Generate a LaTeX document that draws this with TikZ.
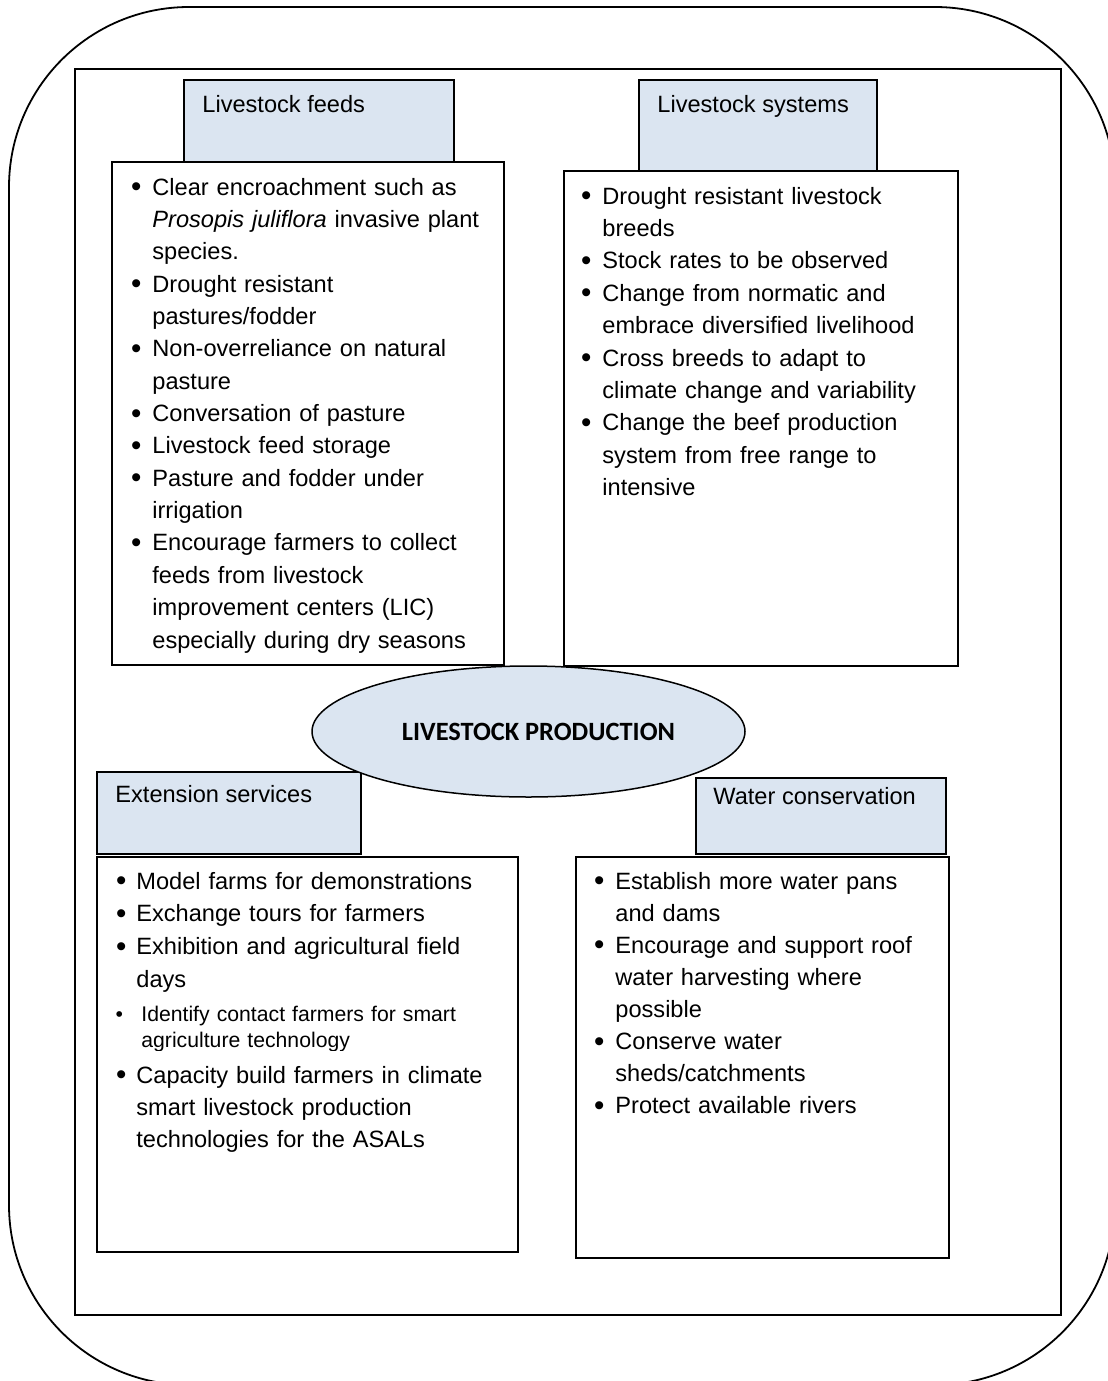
\documentclass[tikz,border=0pt]{standalone}
\usepackage{fontspec}
\usepackage{graphicx}
\setmainfont{Liberation Sans}
\newfontfamily\calibfont{Carlito}
\usetikzlibrary{shapes.geometric}
\definecolor{boxblue}{HTML}{DBE5F1}
% distance from the bullet centre to the start of the item text
\newlength\bulgap
\setlength\bulgap{8pt}
\newcommand\bulletmark{\raisebox{-0.07em}{\scalebox{1.25}{\textbullet}}}
\newcommand\bfirst{\noindent\llap{\makebox[2\bulgap][c]{\bulletmark}}}
\newcommand\bitem{\par\bfirst}
\newcommand\bodyfont{\fontsize{11.8pt}{16.2pt}\selectfont}

\begin{document}
\begin{tikzpicture}[x=0.5pt,y=-0.5pt,
  hdr/.style={draw, fill=boxblue, line width=0.9pt, anchor=north west, inner sep=0pt},
  listbox/.style={draw, fill=white, line width=0.9pt, anchor=north west, inner sep=0pt},
  hdrtext/.style={anchor=base west, inner sep=0pt, font=\bodyfont},
  bullets/.style={anchor=base west, inner sep=0pt, text width=205pt, align=left},
]
\useasboundingbox (0,0) rectangle (1108,1381);
\clip (0,0) rectangle (1108,1381);

% outer rounded outline and inner frame
\draw[line width=0.9pt, rounded corners=90pt] (9,7) rectangle (1115,1385);
\node[draw, line width=0.9pt, minimum width=493pt, minimum height=623pt,
      anchor=north west, inner sep=0pt] (frame) at (74,68) {};

% ---------- Livestock feeds ----------
\node[hdr, minimum width=135pt, minimum height=41pt] (feedsH) at (183,79) {};
\node[hdrtext] (feedsT) at (202,112) {Livestock feeds};
\node[listbox, minimum width=196pt, minimum height=251.5pt] (feedsB) at (111,161) {};
\node[bullets, font=\fontsize{11.8pt}{16.18pt}\selectfont] (feedsL) at (152,195) {%
\bfirst Clear encroachment such as\\ \textit{Prosopis juliflora} invasive plant\\ species.
\bitem Drought resistant\\ pastures/fodder
\bitem Non-overreliance on natural\\ pasture
\bitem Conversation of pasture
\bitem Livestock feed storage
\bitem Pasture and fodder under\\ irrigation
\bitem Encourage farmers to collect\\ feeds from livestock\\ improvement centers (LIC)\\ especially during dry seasons};

% ---------- Livestock systems ----------
\node[hdr, minimum width=119pt, minimum height=45.5pt] (sysH) at (638,79) {};
\node[hdrtext] (sysT) at (657,112) {Livestock systems};
\node[listbox, minimum width=197pt, minimum height=247.5pt] (sysB) at (563,170) {};
\node[bullets, font=\fontsize{11.8pt}{16.2pt}\selectfont] (sysL) at (602,204) {%
\bfirst Drought resistant livestock\\ breeds
\bitem Stock rates to be observed
\bitem Change from normatic and\\ embrace diversified livelihood
\bitem Cross breeds to adapt to\\ climate change and variability
\bitem Change the beef production\\ system from free range to\\ intensive};

% ---------- Extension services ----------
\node[hdr, minimum width=132pt, minimum height=41pt] (extH) at (96,771) {};
\node[hdrtext] (extT) at (115,802) {Extension services};
\node[listbox, minimum width=210.5pt, minimum height=197.5pt] (extB) at (96,856) {};
\node[bullets, font=\fontsize{11.8pt}{16.35pt}\selectfont] (extL) at (136,889) {\setlength\bulgap{7.5pt}%
\bfirst Model farms for demonstrations
\bitem Exchange tours for farmers
\bitem Exhibition and agricultural field\\ days};
\begin{scope}
  \clip (96,1000) rectangle (517,1050);
  \node[bullets, font=\fontsize{10.6pt}{13pt}\selectfont] (extS) at (141,1021) {\setlength\bulgap{11pt}%
  \noindent\llap{\makebox[2\bulgap][c]{\textbullet}}Identify contact farmers for smart\\ agriculture technology};
\end{scope}
\node[bullets, font=\fontsize{11.8pt}{16pt}\selectfont] (extM) at (136,1083) {\setlength\bulgap{7.5pt}%
\bfirst Capacity build farmers in climate\\ smart livestock production\\ technologies for the ASALs};

% ---------- Water conservation ----------
\node[hdr, minimum width=125pt, minimum height=38pt] (watH) at (695,777) {};
\node[hdrtext] (watT) at (713,804) {Water conservation};
\node[listbox, minimum width=186.5pt, minimum height=200.5pt] (watB) at (575,856) {};
\node[bullets, font=\fontsize{11.8pt}{16.07pt}\selectfont] (watL) at (615,889) {%
\bfirst Establish more water pans\\ and dams
\bitem Encourage and support roof\\ water harvesting where\\ possible
\bitem Conserve water\\ sheds/catchments
\bitem Protect available rivers};

% ---------- central ellipse ----------
\node[ellipse, draw, fill=boxblue, line width=0.75pt, minimum width=216.5pt,
      minimum height=65.5pt, inner sep=0pt,
      font=\calibfont\bfseries\fontsize{13.2pt}{15pt}\selectfont] (core) at (528.5,731.5) {\hspace*{10pt}LIVESTOCK PRODUCTION};
\end{tikzpicture}
\end{document}
